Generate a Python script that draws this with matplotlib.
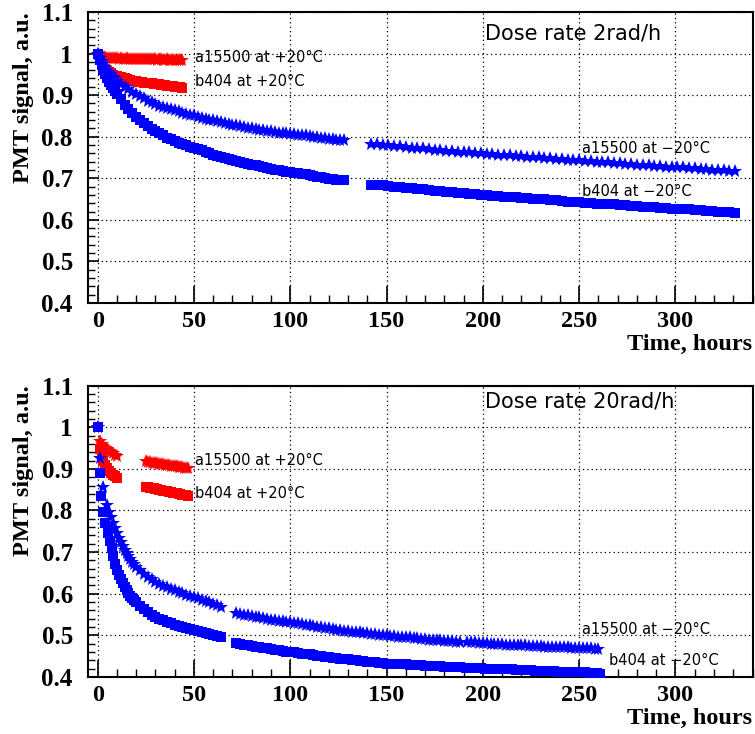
import matplotlib
matplotlib.use("Agg")
import matplotlib.pyplot as plt
from matplotlib.ticker import MultipleLocator
import numpy as np

# ---- Dose rate 2 rad/h (top panel) ----
top_red_star_t = np.arange(0, 45, 1)
top_red_star_v = [1.000, 0.996, 0.993, 0.992, 0.991, 0.990, 0.990, 0.989, 0.989, 0.990,
                  0.989, 0.988, 0.989, 0.988, 0.988, 0.989, 0.988, 0.987, 0.988, 0.988,
                  0.987, 0.988, 0.987, 0.987, 0.986, 0.987, 0.987, 0.986, 0.986, 0.987,
                  0.986, 0.985, 0.986, 0.986, 0.985, 0.985, 0.986, 0.985, 0.984, 0.985,
                  0.985, 0.984, 0.984, 0.985, 0.984]

top_red_sq_t = np.arange(0, 45, 1)
top_red_sq_v = [1.000, 0.985, 0.975, 0.967, 0.962, 0.958, 0.955, 0.952, 0.949, 0.947,
                0.945, 0.944, 0.943, 0.941, 0.940, 0.939, 0.937, 0.936, 0.935, 0.934,
                0.933, 0.932, 0.931, 0.931, 0.930, 0.929, 0.929, 0.928, 0.928, 0.927,
                0.927, 0.926, 0.926, 0.925, 0.924, 0.924, 0.923, 0.922, 0.922, 0.921,
                0.920, 0.920, 0.919, 0.919, 0.918]

top_blue_t = np.concatenate([np.arange(0, 10, 1), np.arange(10, 130, 2), np.arange(142, 332, 3)])
top_blue_star_v = [1.000, 0.990, 0.982, 0.975, 0.968, 0.961, 0.955, 0.950, 0.944, 0.940,
                   0.935, 0.927, 0.920, 0.914, 0.908, 0.902, 0.897, 0.892, 0.887, 0.883,
                   0.879, 0.875, 0.872, 0.869, 0.866, 0.863, 0.861, 0.858, 0.855, 0.853,
                   0.851, 0.848, 0.845, 0.843, 0.841, 0.839, 0.837, 0.835, 0.833, 0.831,
                   0.829, 0.827, 0.825, 0.823, 0.822, 0.820, 0.818, 0.817, 0.815, 0.814,
                   0.813, 0.811, 0.810, 0.809, 0.808, 0.807, 0.806, 0.805, 0.804, 0.803,
                   0.801, 0.800, 0.799, 0.798, 0.797, 0.795, 0.794, 0.793, 0.792, 0.791,
                   0.783, 0.782, 0.780, 0.779, 0.778, 0.777, 0.775, 0.774, 0.773, 0.772,
                   0.770, 0.769, 0.768, 0.766, 0.765, 0.764, 0.763, 0.762, 0.761, 0.760,
                   0.759, 0.758, 0.757, 0.756, 0.755, 0.754, 0.753, 0.752, 0.751, 0.750,
                   0.749, 0.748, 0.747, 0.746, 0.745, 0.744, 0.743, 0.742, 0.741, 0.740,
                   0.739, 0.738, 0.737, 0.736, 0.735, 0.734, 0.733, 0.732, 0.731, 0.730,
                   0.729, 0.728, 0.728, 0.727, 0.726, 0.725, 0.724, 0.723, 0.722, 0.721,
                   0.720, 0.719, 0.718, 0.717]
top_blue_sq_v = [1.000, 0.985, 0.972, 0.960, 0.950, 0.940, 0.932, 0.924, 0.916, 0.909,
                 0.902, 0.890, 0.877, 0.866, 0.856, 0.847, 0.839, 0.832, 0.825, 0.819,
                 0.813, 0.808, 0.803, 0.798, 0.794, 0.790, 0.786, 0.782, 0.779, 0.776,
                 0.773, 0.770, 0.767, 0.764, 0.760, 0.757, 0.754, 0.752, 0.749, 0.747,
                 0.744, 0.742, 0.740, 0.737, 0.735, 0.733, 0.731, 0.729, 0.727, 0.725,
                 0.723, 0.721, 0.719, 0.718, 0.716, 0.715, 0.713, 0.712, 0.711, 0.710,
                 0.708, 0.706, 0.704, 0.702, 0.700, 0.699, 0.698, 0.697, 0.696, 0.695,
                 0.685, 0.684, 0.683, 0.681, 0.680, 0.679, 0.677, 0.676, 0.674, 0.673,
                 0.672, 0.670, 0.669, 0.668, 0.666, 0.665, 0.664, 0.662, 0.661, 0.660,
                 0.659, 0.658, 0.657, 0.656, 0.655, 0.654, 0.653, 0.652, 0.651, 0.650,
                 0.649, 0.648, 0.647, 0.645, 0.644, 0.643, 0.642, 0.641, 0.640, 0.639,
                 0.638, 0.638, 0.637, 0.636, 0.635, 0.634, 0.633, 0.632, 0.631, 0.630,
                 0.629, 0.628, 0.627, 0.627, 0.626, 0.625, 0.624, 0.623, 0.622, 0.621,
                 0.620, 0.619, 0.618, 0.617]

# ---- Dose rate 20 rad/h (bottom panel) ----
bot_red_t = np.concatenate([np.arange(0, 11, 1), np.arange(25, 48, 1)])
bot_red_star_v = [1.000, 0.967, 0.960, 0.955, 0.951, 0.947, 0.944, 0.940, 0.937, 0.934,
                  0.932,
                  0.918, 0.917, 0.916, 0.915, 0.915, 0.914, 0.913, 0.912, 0.912, 0.911,
                  0.910, 0.909, 0.909, 0.908, 0.907, 0.907, 0.906, 0.905, 0.905, 0.904,
                  0.903, 0.903, 0.902]
bot_red_sq_v = [1.000, 0.948, 0.930, 0.918, 0.909, 0.902, 0.896, 0.891, 0.886, 0.882,
                0.879,
                0.857, 0.856, 0.855, 0.854, 0.853, 0.852, 0.851, 0.850, 0.849, 0.848,
                0.847, 0.846, 0.845, 0.844, 0.843, 0.842, 0.841, 0.840, 0.839, 0.838,
                0.838, 0.837, 0.836]

bot_blue_star_t = np.concatenate([[0, 1, 3, 5, 6], np.arange(7, 20, 1), np.arange(20, 65, 2),
                                  np.arange(72, 190, 2), np.arange(192, 261, 2)])
bot_blue_star_v = [1.000, 0.926, 0.856, 0.813, 0.797,
                   0.785, 0.770, 0.757, 0.745, 0.734, 0.724, 0.714, 0.705, 0.697, 0.690,
                   0.683, 0.677, 0.671,
                   0.665, 0.656, 0.648, 0.641, 0.635, 0.629, 0.624, 0.619, 0.615, 0.611,
                   0.608, 0.604, 0.601, 0.598, 0.595, 0.592, 0.589, 0.586, 0.583, 0.579,
                   0.576, 0.572, 0.568,
                   0.554, 0.552, 0.550, 0.548, 0.546, 0.545, 0.543, 0.541, 0.540, 0.538,
                   0.537, 0.535, 0.534, 0.533, 0.532, 0.530, 0.529, 0.527, 0.526, 0.524,
                   0.523, 0.521, 0.520, 0.518, 0.517, 0.515, 0.514, 0.512, 0.511, 0.510,
                   0.509, 0.508, 0.507, 0.506, 0.505, 0.504, 0.503, 0.502, 0.501, 0.500,
                   0.499, 0.498, 0.497, 0.497, 0.496, 0.495, 0.494, 0.493, 0.492, 0.491,
                   0.490, 0.489, 0.489, 0.488, 0.487, 0.486, 0.486, 0.485, 0.484,
                   0.484, 0.483, 0.483, 0.482, 0.481, 0.481, 0.480, 0.480, 0.479, 0.479,
                   0.478, 0.478, 0.477, 0.477, 0.476, 0.476, 0.475, 0.475, 0.474, 0.474,
                   0.473, 0.473, 0.472, 0.472, 0.472, 0.471, 0.471, 0.470, 0.470, 0.470,
                   0.469, 0.469, 0.469, 0.468, 0.468]

bot_blue_sq_t = np.concatenate([[0, 1.2, 1.9, 2.7, 3.9, 5.2, 6.4, 7.2], np.arange(8, 20, 1),
                                np.arange(20, 65, 2), np.arange(72, 190, 2), np.arange(191, 262, 2)])
bot_blue_sq_v = [1.000, 0.889, 0.835, 0.797, 0.769, 0.745, 0.726, 0.709,
                 0.690, 0.672, 0.657, 0.645, 0.635, 0.625, 0.616, 0.608, 0.601, 0.595,
                 0.589, 0.584,
                 0.579, 0.571, 0.563, 0.556, 0.550, 0.545, 0.540, 0.536, 0.532, 0.529,
                 0.526, 0.523, 0.520, 0.518, 0.515, 0.513, 0.511, 0.508, 0.506, 0.503,
                 0.501, 0.499, 0.497,
                 0.482, 0.480, 0.478, 0.476, 0.475, 0.473, 0.472, 0.470, 0.469, 0.467,
                 0.466, 0.464, 0.463, 0.461, 0.460, 0.459, 0.457, 0.456, 0.455, 0.454,
                 0.452, 0.451, 0.450, 0.449, 0.447, 0.446, 0.445, 0.444, 0.443, 0.442,
                 0.441, 0.440, 0.439, 0.438, 0.437, 0.436, 0.435, 0.434, 0.433, 0.432,
                 0.432, 0.431, 0.431, 0.430, 0.430, 0.429, 0.429, 0.428, 0.428, 0.427,
                 0.427, 0.426, 0.426, 0.426, 0.425, 0.425, 0.424, 0.424, 0.423,
                 0.422, 0.422, 0.422, 0.421, 0.421, 0.420, 0.420, 0.420, 0.419, 0.419,
                 0.418, 0.418, 0.418, 0.417, 0.417, 0.416, 0.416, 0.416, 0.415, 0.415,
                 0.415, 0.414, 0.414, 0.414, 0.413, 0.413, 0.413, 0.412, 0.412, 0.412,
                 0.411, 0.411, 0.410, 0.410, 0.409, 0.408]

x_ticks = [0, 50, 100, 150, 200, 250, 300]
y_ticks = [0.4, 0.5, 0.6, 0.7, 0.8, 0.9, 1.0, 1.1]
y_ticklabels = ["0.4", "0.5", "0.6", "0.7", "0.8", "0.9", "1", "1.1"]

serif = "Liberation Serif"
sans = "DejaVu Sans"

fig = plt.figure(figsize=(7.55, 7.34), dpi=100)
ax_top = fig.add_axes([0.1166, 0.5872, 0.8801, 0.3965])
ax_bot = fig.add_axes([0.1166, 0.0777, 0.8801, 0.3969])


def setup(ax):
    ax.set_xlim(-5, 340)
    ax.set_ylim(0.4, 1.1)
    ax.set_xticks(x_ticks)
    ax.set_xticklabels([str(t) for t in x_ticks], fontfamily=serif, fontweight="bold", fontsize=17.5)
    ax.set_yticks(y_ticks)
    ax.set_yticklabels(y_ticklabels, fontfamily=serif, fontweight="bold", fontsize=18)
    ax.xaxis.set_minor_locator(MultipleLocator(10))
    ax.yaxis.set_minor_locator(MultipleLocator(0.02))
    ax.tick_params(axis="x", which="major", direction="in", length=12, width=1.2, pad=6)
    ax.tick_params(axis="x", which="minor", direction="in", length=6, width=1.0)
    ax.tick_params(axis="y", which="major", direction="in", length=8, width=1.2, pad=11)
    ax.tick_params(axis="y", which="minor", direction="in", length=5, width=1.0)
    ax.grid(True, which="major", color="black", linestyle=(0, (1, 2.5)), linewidth=0.9)
    for s in ax.spines.values():
        s.set_linewidth(1.5)
    ax.set_ylabel("PMT signal, a.u.", fontfamily=serif, fontweight="bold", fontsize=17.5,
                  loc="top", labelpad=5)
    ax.set_xlabel("Time, hours", fontfamily=serif, fontweight="bold", fontsize=17.5,
                  loc="right", labelpad=1)


def draw(ax, rs_t, rs_v, rq_t, rq_v, bs_t, bs_v, bq_t, bq_v):
    ax.plot(rs_t, rs_v, ls="none", marker="*", ms=10, mew=0, color="red", zorder=3)
    ax.plot(rq_t, rq_v, ls="none", marker="s", ms=7, mew=0, color="red", zorder=3)
    ax.plot(bs_t, bs_v, ls="none", marker="*", ms=10, mew=0, color="blue", zorder=4)
    ax.plot(bq_t, bq_v, ls="none", marker="s", ms=7, mew=0, color="blue", zorder=4)


setup(ax_top)
draw(ax_top, top_red_star_t, top_red_star_v, top_red_sq_t, top_red_sq_v,
     top_blue_t, top_blue_star_v, top_blue_t, top_blue_sq_v)
ax_top.text(201, 1.049, "Dose rate 2rad/h", fontfamily=sans, fontsize=15, va="center")
ax_top.text(50.4, 0.991, "a15500 at +20°C", fontfamily=sans, fontsize=10.5, va="center")
ax_top.text(50.4, 0.932, "b404 at +20°C", fontfamily=sans, fontsize=10.5, va="center")
ax_top.text(251.4, 0.772, "a15500 at \u221220°C", fontfamily=sans, fontsize=10.5, va="center")
ax_top.text(251.4, 0.669, "b404 at \u221220°C", fontfamily=sans, fontsize=10.5, va="center")

setup(ax_bot)
draw(ax_bot, bot_red_t, bot_red_star_v, bot_red_t, bot_red_sq_v,
     bot_blue_star_t, bot_blue_star_v, bot_blue_sq_t, bot_blue_sq_v)
ax_bot.text(201, 1.062, "Dose rate 20rad/h", fontfamily=sans, fontsize=15, va="center")
ax_bot.text(50.4, 0.920, "a15500 at +20°C", fontfamily=sans, fontsize=10.5, va="center")
ax_bot.text(50.4, 0.840, "b404 at +20°C", fontfamily=sans, fontsize=10.5, va="center")
ax_bot.text(251.4, 0.514, "a15500 at \u221220°C", fontfamily=sans, fontsize=10.5, va="center")
ax_bot.text(265.6, 0.439, "b404 at \u221220°C", fontfamily=sans, fontsize=10.5, va="center")

fig.savefig("out.png", dpi=100)
